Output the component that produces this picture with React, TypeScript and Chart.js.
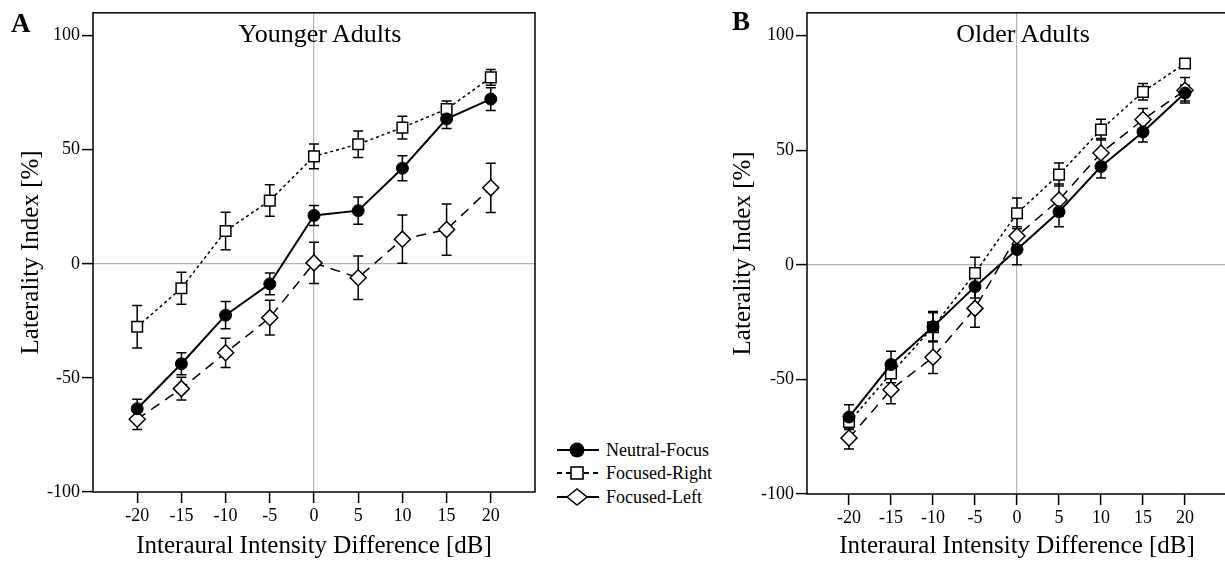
import React, { useEffect, useRef } from "react";
import { Chart, registerables } from "chart.js";

Chart.register(...registerables);

const iidLevels = [-20, -15, -10, -5, 0, 5, 10, 15, 20];
const yTickValues = [-100, -50, 0, 50, 100];
const seriesNames = ["Neutral-Focus", "Focused-Right", "Focused-Left"];

// Younger adults
const youngerNeutral = [-63.5, -43.8, -22.5, -8.8, 21.2, 23.3, 41.9, 63.5, 72.2];
const youngerNeutralErr = [4.1, 4.8, 6, 4.8, 4.4, 6, 5.5, 4.2, 5];
const youngerRight = [-27.6, -10.7, 14.4, 27.7, 47.1, 52.4, 59.7, 67.8, 81.7];
const youngerRightErr = [9.3, 7, 8.2, 6.9, 5.4, 5.8, 5, 3.6, 3.4];
const youngerLeft = [-68.1, -54.7, -39, -23.6, 0.4, -6.1, 10.8, 15, 33.3];
const youngerLeftErr = [4.5, 5, 6.4, 7.6, 9, 9.5, 10.6, 11.2, 10.8];

// Older adults
const olderNeutral = [-66.4, -43.5, -27, -9.5, 6.7, 23.2, 42.9, 58, 75];
const olderNeutralErr = [5.4, 5.8, 6.6, 5, 6.7, 6.6, 5, 4.4, 3.5];
const olderRight = [-68.6, -47.4, -27.2, -3.6, 22.5, 39.4, 59, 75.5, 87.9];
const olderRightErr = [3, 4, 6.3, 6.9, 6.7, 5, 4.5, 3.6, 1.5];
const olderLeft = [-75.6, -54.5, -40.3, -19, 12.6, 28.3, 48.8, 63.4, 76.2];
const olderLeftErr = [4.8, 6.1, 7.1, 8.2, 4, 7, 6.3, 4.8, 5.6];

const SERIF = "'Liberation Serif', 'Times New Roman', serif";

const framePlugin = {
  id: "frameBox",
  afterDraw(chart: any) {
    const { ctx, chartArea } = chart;
    const { left, top, right, bottom } = chartArea;
    ctx.save();
    ctx.strokeStyle = "#000";
    ctx.lineWidth = 1.5;
    ctx.strokeRect(left, top, right - left, bottom - top);
    ctx.restore();
  },
};

const errorBarPlugin = {
  id: "errorBars",
  beforeDatasetsDraw(chart: any) {
    const ctx = chart.ctx;
    const xs = chart.scales.x;
    const ys = chart.scales.y;
    chart.data.datasets.forEach((ds: any) => {
      const errs = ds.errors;
      if (!errs) return;
      ctx.save();
      ctx.strokeStyle = "#000";
      ctx.lineWidth = 1.5;
      ctx.setLineDash([]);
      ds.data.forEach((p: any, i: number) => {
        const px = xs.getPixelForValue(p.x);
        const y1 = ys.getPixelForValue(p.y + errs[i]);
        const y2 = ys.getPixelForValue(p.y - errs[i]);
        ctx.beginPath();
        ctx.moveTo(px, y1);
        ctx.lineTo(px, y2);
        ctx.moveTo(px - 5, y1);
        ctx.lineTo(px + 5, y1);
        ctx.moveTo(px - 5, y2);
        ctx.lineTo(px + 5, y2);
        ctx.stroke();
      });
      ctx.restore();
    });
  },
};

type PanelProps = {
  left: number;
  width: number;
  padRight: number;
  yWidth: number;
  xHeight: number;
  yTitlePad: number;
  neutral: number[];
  neutralErr: number[];
  right: number[];
  rightErr: number[];
  leftS: number[];
  leftErr: number[];
};

function Panel(props: PanelProps) {
  const ref = useRef<HTMLCanvasElement | null>(null);
  useEffect(() => {
    if (!ref.current) return;
    const mk = (vals: number[]) => iidLevels.map((x, i) => ({ x, y: vals[i] }));
    const chart = new Chart(ref.current, {
      type: "line",
      data: {
        datasets: [
          {
            label: seriesNames[0],
            data: mk(props.neutral),
            errors: props.neutralErr,
            borderColor: "#000",
            borderWidth: 2,
            pointStyle: "circle",
            pointRadius: 6,
            pointBackgroundColor: "#000",
            pointBorderColor: "#000",
            pointBorderWidth: 1,
            fill: false,
            tension: 0,
          } as any,
          {
            label: seriesNames[1],
            data: mk(props.right),
            errors: props.rightErr,
            borderColor: "#000",
            borderWidth: 1.5,
            borderDash: [3, 3],
            pointStyle: "rect",
            pointRadius: 7.5,
            pointBackgroundColor: "#fff",
            pointBorderColor: "#000",
            pointBorderWidth: 1.5,
            fill: false,
            tension: 0,
          } as any,
          {
            label: seriesNames[2],
            data: mk(props.leftS),
            errors: props.leftErr,
            borderColor: "#000",
            borderWidth: 1.5,
            borderDash: [10, 7],
            pointStyle: "rectRot",
            pointRadius: 8,
            pointBackgroundColor: "#fff",
            pointBorderColor: "#000",
            pointBorderWidth: 1.5,
            fill: false,
            tension: 0,
          } as any,
        ],
      },
      options: {
        animation: false,
        responsive: true,
        maintainAspectRatio: false,
        layout: { padding: { top: 12, right: props.padRight, left: 0, bottom: 0 } },
        plugins: { legend: { display: false }, tooltip: { enabled: false } },
        scales: {
          x: {
            type: "linear",
            min: -25,
            max: 25,
            afterBuildTicks: (a: any) => {
              a.ticks = iidLevels.map((v) => ({ value: v }));
            },
            afterFit: (s: any) => {
              s.height = props.xHeight;
            },
            border: { display: false },
            grid: {
              color: (c: any) => (c.tick && c.tick.value === 0 ? "#b4b4b4" : "rgba(0,0,0,0)"),
              lineWidth: 1.2,
              tickLength: 11,
              tickColor: "#000",
              tickWidth: 1.5,
              drawOnChartArea: true,
              drawTicks: true,
            },
            ticks: {
              color: "#000",
              font: { family: SERIF, size: 18 },
              padding: 2,
              autoSkip: false,
              maxRotation: 0,
              callback: (v: any) => String(v),
            },
            title: {
              display: true,
              text: "Interaural Intensity Difference [dB]",
              color: "#000",
              font: { family: SERIF, size: 25 },
              padding: { top: 0, bottom: 0 },
            },
          },
          y: {
            type: "linear",
            min: -100,
            max: 110,
            afterBuildTicks: (a: any) => {
              a.ticks = yTickValues.map((v) => ({ value: v }));
            },
            afterFit: (s: any) => {
              s.width = props.yWidth;
            },
            border: { display: false },
            grid: {
              color: (c: any) => (c.tick && c.tick.value === 0 ? "#b4b4b4" : "rgba(0,0,0,0)"),
              lineWidth: 1.2,
              tickLength: 11,
              tickColor: "#000",
              tickWidth: 1.5,
              drawOnChartArea: true,
              drawTicks: true,
            },
            ticks: {
              color: "#000",
              font: { family: SERIF, size: 18 },
              padding: 2,
              autoSkip: false,
              callback: (v: any) => String(v),
            },
            title: {
              display: true,
              text: "Laterality Index [%]",
              color: "#000",
              font: { family: SERIF, size: 25 },
              padding: { top: props.yTitlePad, bottom: 0 },
            },
          },
        },
      } as any,
      plugins: [errorBarPlugin, framePlugin],
    });
    return () => chart.destroy();
  }, []);
  return (
    <div style={{ position: "absolute", left: props.left, top: 0, width: props.width, height: 561 }}>
      <canvas ref={ref} />
    </div>
  );
}

function LegendRow({ kind, label }: { kind: number; label: string }) {
  let sym: React.ReactNode = null;
  if (kind === 0) {
    sym = (
      <svg width="44" height="20">
        <line x1="1" y1="10" x2="43" y2="10" stroke="#000" strokeWidth="2" />
        <circle cx="21" cy="10" r="7.5" fill="#000" />
      </svg>
    );
  } else if (kind === 1) {
    sym = (
      <svg width="44" height="20">
        <line x1="1" y1="10" x2="43" y2="10" stroke="#000" strokeWidth="2" strokeDasharray="5 4" />
        <rect x="15" y="4" width="12" height="12" fill="#fff" stroke="#000" strokeWidth="1.6" />
      </svg>
    );
  } else {
    sym = (
      <svg width="44" height="20">
        <line x1="1" y1="10" x2="43" y2="10" stroke="#000" strokeWidth="2" />
        <polygon points="11,10 21,2 31,10 21,18" fill="#fff" stroke="#000" strokeWidth="1.6" />
      </svg>
    );
  }
  return (
    <div style={{ display: "flex", alignItems: "center", height: 23.5 }}>
      {sym}
      <span style={{ marginLeft: 6, fontFamily: SERIF, fontSize: 18, color: "#000", lineHeight: "20px" }}>{label}</span>
    </div>
  );
}

export default function App() {
  return (
    <div
      style={{
        position: "fixed",
        left: 0,
        top: 0,
        width: 1225,
        height: 561,
        overflow: "hidden",
        background: "#fff",
      }}
    >
      <Panel
        left={0}
        width={545}
        padRight={10}
        yWidth={93}
        xHeight={69}
        yTitlePad={16}
        neutral={youngerNeutral}
        neutralErr={youngerNeutralErr}
        right={youngerRight}
        rightErr={youngerRightErr}
        leftS={youngerLeft}
        leftErr={youngerLeftErr}
      />
      <Panel
        left={720}
        width={520}
        padRight={13}
        yWidth={87}
        xHeight={67}
        yTitlePad={8}
        neutral={olderNeutral}
        neutralErr={olderNeutralErr}
        right={olderRight}
        rightErr={olderRightErr}
        leftS={olderLeft}
        leftErr={olderLeftErr}
      />
      <div style={{ position: "absolute", left: 11, top: 10, fontFamily: SERIF, fontWeight: "bold", fontSize: 27, lineHeight: "27px" }}>A</div>
      <div style={{ position: "absolute", left: 732, top: 8, fontFamily: SERIF, fontWeight: "bold", fontSize: 27, lineHeight: "27px" }}>B</div>
      <div style={{ position: "absolute", left: 220, width: 200, top: 21, textAlign: "center", fontFamily: SERIF, fontSize: 26, lineHeight: "26px" }}>Younger Adults</div>
      <div style={{ position: "absolute", left: 923, width: 200, top: 21, textAlign: "center", fontFamily: SERIF, fontSize: 26, lineHeight: "26px" }}>Older Adults</div>
      <div style={{ position: "absolute", left: 556, top: 438 }}>
        <LegendRow kind={0} label={seriesNames[0]} />
        <LegendRow kind={1} label={seriesNames[1]} />
        <LegendRow kind={2} label={seriesNames[2]} />
      </div>
    </div>
  );
}
